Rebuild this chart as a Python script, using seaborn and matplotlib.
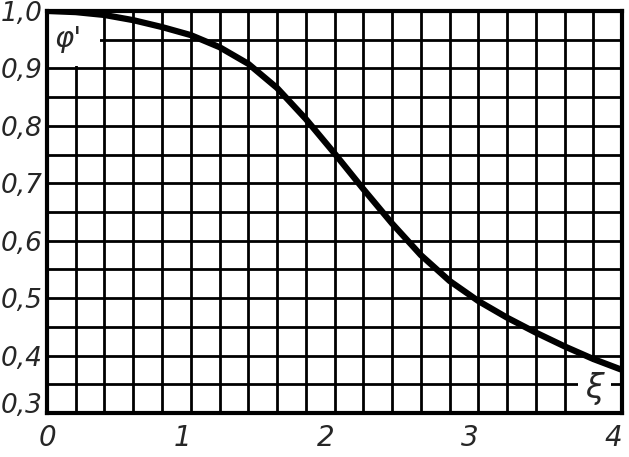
import numpy as np
import pandas as pd
import seaborn as sns
import matplotlib.pyplot as plt
import matplotlib.transforms as mtransforms
from matplotlib.patches import Rectangle

# curve
xi = [0, 0.2, 0.4, 0.6, 0.8, 1.0, 1.2, 1.4, 1.6, 1.8, 2.0,
      2.2, 2.4, 2.6, 2.8, 3.0, 3.2, 3.4, 3.6, 3.8, 4.0]
phi = [1.0, 0.998, 0.993, 0.984, 0.972, 0.958, 0.937, 0.908, 0.866, 0.812, 0.752,
       0.690, 0.630, 0.575, 0.530, 0.495, 0.466, 0.440, 0.416, 0.394, 0.375]

x_ticks = [0, 1, 2, 3, 4]
x_labels = ["0", "1", "2", "3", "4"]
y_ticks = [0.3, 0.4, 0.5, 0.6, 0.7, 0.8, 0.9, 1.0]
y_labels = ["0,3", "0,4", "0,5", "0,6", "0,7", "0,8", "0,9", "1,0"]

df = pd.DataFrame({"xi": xi, "phi": phi})

sns.set_style("white")
plt.rcParams['font.family'] = ['DejaVu Sans']

fig = plt.figure(figsize=(6.29, 4.57), dpi=100)
ax = fig.add_axes([0.0747, 0.0963, 0.9143, 0.8797])

sns.lineplot(data=df, x="xi", y="phi", ax=ax, color="black", linewidth=4.5,
             solid_joinstyle="round", solid_capstyle="round", zorder=3)

ax.set_xlim(0, 4)
ax.set_ylim(0.3, 1.0)
ax.set_xticks(x_ticks)
ax.set_xticklabels(x_labels, fontsize=20, style="italic")
ax.set_yticks(y_ticks)
ax.set_yticklabels(y_labels, fontsize=19, style="italic")
ax.set_xticks(np.arange(0, 4.01, 0.2), minor=True)
ax.set_yticks(np.arange(0.3, 1.001, 0.05), minor=True)
ax.grid(True, which="both", color="black", linewidth=2)
ax.tick_params(which="both", length=0)
ax.tick_params(axis="x", pad=8)
ax.tick_params(axis="y", pad=3)
ax.set_xlabel("")
ax.set_ylabel("")
for s in ax.spines.values():
    s.set_color("black")
    s.set_linewidth(3)

# the handwritten numbers sit a little off their lines
shift = mtransforms.ScaledTranslation(-6 / 72, 0, fig.dpi_scale_trans)
for lab in ax.get_xticklabels()[1:]:
    lab.set_transform(lab.get_transform() + shift)
up = mtransforms.ScaledTranslation(0, 7 / 72, fig.dpi_scale_trans)
lab0 = ax.get_yticklabels()[0]
lab0.set_transform(lab0.get_transform() + up)

# blank cells behind the axis letters, as on the scan
ax.add_patch(Rectangle((0.01, 0.905), 0.36, 0.093, facecolor="white",
                       edgecolor="none", zorder=1))
ax.add_patch(Rectangle((3.69, 0.303), 0.23, 0.085, facecolor="white",
                       edgecolor="none", zorder=1))

ax.text(0.15, 0.952, "φ'", fontsize=21, style="italic", ha="center", va="center",
        zorder=2)
ax.text(3.805, 0.342, "ξ", fontsize=24, style="italic", ha="center", va="center",
        zorder=2)

fig.savefig("out.png", dpi=100)
